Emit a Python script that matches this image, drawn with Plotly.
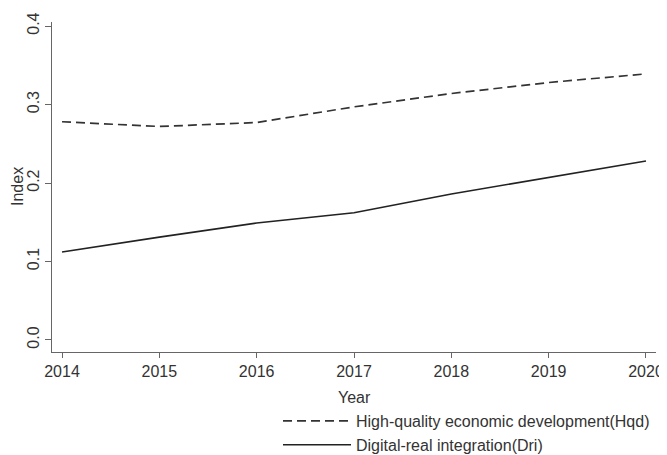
import plotly.graph_objects as go

years = [2014, 2015, 2016, 2017, 2018, 2019, 2020]
hqd = [0.278, 0.272, 0.277, 0.297, 0.314, 0.328, 0.339]
dri = [0.112, 0.131, 0.149, 0.162, 0.186, 0.207, 0.228]
y_ticks = [0.0, 0.1, 0.2, 0.3, 0.4]
y_tick_labels = ["0.0", "0.1", "0.2", "0.3", "0.4"]

FONT = "Liberation Sans, Arial, sans-serif"
W, H = 659, 447  # page body adds 8px offset

fig = go.Figure()
fig.add_trace(go.Scatter(x=years, y=hqd, mode="lines",
                         name="High-quality economic development(Hqd)",
                         line=dict(color="#333333", width=1.7, dash="9px,5px")))
fig.add_trace(go.Scatter(x=years, y=dri, mode="lines",
                         name="Digital-real integration(Dri)",
                         line=dict(color="#222222", width=1.6)))

fig.update_layout(
    width=W, height=H,
    margin=dict(l=44, r=11, t=14, b=103, autoexpand=False),
    paper_bgcolor="white", plot_bgcolor="white",
    font=dict(family=FONT, size=16, color="#333333"),
    showlegend=True,
    legend=dict(x=270 / W, y=1 - 396 / H, xref="container", yref="container",
                xanchor="left", yanchor="top",
                font=dict(size=16, color="#333333"),
                tracegroupgap=0, itemwidth=68,
                bgcolor="rgba(0,0,0,0)"),
    annotations=[
        dict(text="Index", xref="paper", yref="paper", x=0, y=0.5,
             xshift=-35, textangle=-90, showarrow=False,
             xanchor="center", yanchor="middle",
             font=dict(size=16, color="#333333")),
        dict(text="Year", xref="paper", yref="paper", x=0.5, y=0,
             yshift=-45, showarrow=False,
             xanchor="center", yanchor="middle",
             font=dict(size=16, color="#333333")),
    ],
)
fig.update_xaxes(
    range=[2013.897, 2020.103],
    tickvals=years, ticktext=[str(y) for y in years],
    showline=True, linecolor="#666666", linewidth=1.2,
    ticks="outside", ticklen=5, tickcolor="#666666",
    showgrid=False, zeroline=False, automargin=False,
    tickfont=dict(size=16),
)
fig.update_yaxes(
    range=[-0.0153, 0.4051],
    tickvals=y_ticks, ticktext=y_tick_labels,
    tickangle=-90,
    showline=True, linecolor="#666666", linewidth=1.2,
    ticks="outside", ticklen=6, tickcolor="#666666",
    showgrid=False, zeroline=False, automargin=False,
    tickfont=dict(size=16),
)

fig.write_html("out.html")
